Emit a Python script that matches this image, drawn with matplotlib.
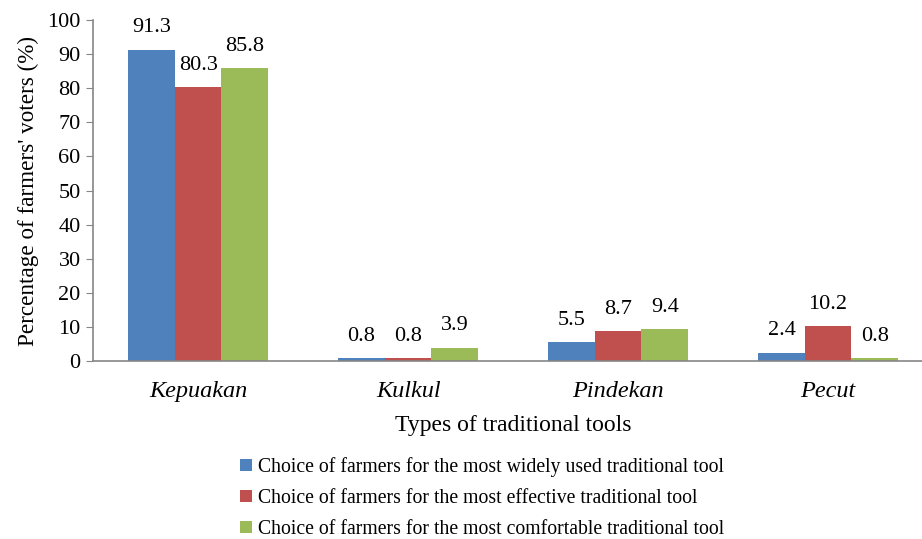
import numpy as np
import matplotlib
matplotlib.use('Agg')
import matplotlib.pyplot as plt

plt.rcParams['font.family'] = ['Liberation Serif', 'DejaVu Serif']

tools = ['Kepuakan', 'Kulkul', 'Pindekan', 'Pecut']
widely_used = [91.3, 0.8, 5.5, 2.4]
effective = [80.3, 0.8, 8.7, 10.2]
comfortable = [85.8, 3.9, 9.4, 0.8]
series_names = ['Choice of farmers for the most widely used traditional tool',
                'Choice of farmers for the most effective traditional tool',
                'Choice of farmers for the most comfortable traditional tool']
colors = ['#4F81BD', '#C0504D', '#9BBB59']

fig = plt.figure(figsize=(9.22, 5.39), dpi=100)
ax = fig.add_axes([0.101, 0.330, 0.911, 0.633])

x = np.arange(len(tools))
w = 0.222
for i, vals in enumerate([widely_used, effective, comfortable]):
    bars = ax.bar(x + (i - 1) * w, vals, w, color=colors[i], label=series_names[i])
    for b, v in zip(bars, vals):
        ax.annotate('%.1f' % v, (b.get_x() + b.get_width() / 2, v),
                    xytext=(0, 9), textcoords='offset points',
                    ha='center', va='bottom', fontsize=16)

ax.set_xlim(-0.5, 3.5)
ax.set_ylim(0, 100)
ax.set_yticks(range(0, 101, 10))
ax.set_xticks(x)
ax.set_xticklabels(tools, fontstyle='italic', fontsize=17.5)
ax.tick_params(axis='x', length=0, pad=14)
ax.tick_params(axis='y', labelsize=16, color='#868686', length=5, pad=4)
for s in ['top', 'right']:
    ax.spines[s].set_visible(False)
for s in ['left', 'bottom']:
    ax.spines[s].set_color('#868686')
    ax.spines[s].set_linewidth(1.2)

ax.set_ylabel("Percentage of farmers' voters (%)", fontsize=16.7, labelpad=6)
ax.set_xlabel('Types of traditional tools', fontsize=17, labelpad=10)

fig.legend(loc='center', bbox_to_anchor=(0.523, 0.076), frameon=False,
           fontsize=14.2, handlelength=0.6, handleheight=0.6,
           handletextpad=0.3, labelspacing=0.6)

plt.savefig('out.png', dpi=100)
